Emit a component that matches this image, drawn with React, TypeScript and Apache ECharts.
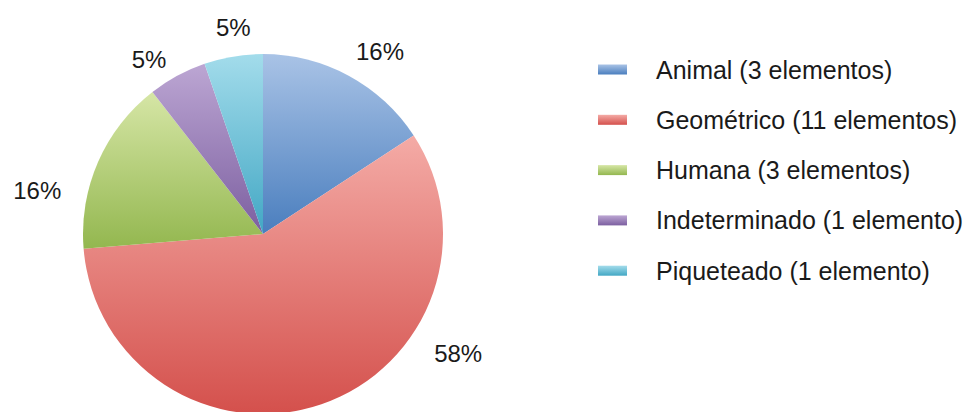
import React, { useEffect, useRef } from "react";
import * as echarts from "echarts";

const categories = ["Animal", "Geométrico", "Humana", "Indeterminado", "Piqueteado"];
const counts = [3, 11, 3, 1, 1];
const legendLabels = [
  "Animal (3 elementos)",
  "Geométrico (11 elementos)",
  "Humana (3 elementos)",
  "Indeterminado (1 elemento)",
  "Piqueteado (1 elemento)",
];
const topColors = ["#A9C3E6", "#F4ABA6", "#D6E6A6", "#BCA6D3", "#A3DCEB"];
const bottomColors = ["#4A7EBE", "#D4504C", "#93B74F", "#7C5FA0", "#42A7C4"];

// label placement (style): distance from centre and angular nudge from the slice's mid-angle
const labelDist = [217, 229, 230, 208, 209];
const labelNudge = [-4.2, 39.5, 12.7, 4.8, -1.3];

const CX = 263;
const CY = 234;

const grad = (i: number) =>
  new echarts.graphic.LinearGradient(0, 0, 0, 1, [
    { offset: 0, color: topColors[i] },
    { offset: 1, color: bottomColors[i] },
  ]);

export default function App() {
  const ref = useRef<HTMLDivElement>(null);
  useEffect(() => {
    document.body.style.margin = "0";
    const chart = echarts.init(ref.current!, null, { renderer: "svg" });
    const total = counts.reduce((a, b) => a + b, 0);
    const midAngles: number[] = [];
    let acc = 0;
    counts.forEach((v) => {
      const start = 90 - (acc / total) * 360;
      acc += v;
      const end = 90 - (acc / total) * 360;
      midAngles.push((start + end) / 2);
    });
    chart.setOption({
      animation: false,
      backgroundColor: "#ffffff",
      legend: {
        orient: "vertical",
        left: 598,
        top: 57,
        padding: 0,
        itemWidth: 29,
        itemHeight: 10,
        itemGap: 25.3,
        icon: "rect",
        data: legendLabels,
        textStyle: {
          fontFamily: "Liberation Sans, Arial, sans-serif",
          fontSize: 25,
          lineHeight: 25,
          color: "#1a1a1a",
          padding: [0, 0, 0, 24],
        },
      },
      series: [
        {
          type: "pie",
          center: [CX, CY],
          radius: 180,
          startAngle: 90,
          clockwise: true,
          silent: true,
          label: {
            show: true,
            position: "outside",
            overflow: "none",
            formatter: (p: any) => Math.round((p.value / total) * 100) + "%",
            fontFamily: "Liberation Sans, Arial, sans-serif",
            fontSize: 24,
            color: "#1a1a1a",
          },
          labelLine: { show: false },
          labelLayout: (params: any) => {
            const i = params.dataIndex;
            const a = ((midAngles[i] + labelNudge[i]) * Math.PI) / 180;
            return {
              x: CX + labelDist[i] * Math.cos(a),
              y: CY - labelDist[i] * Math.sin(a),
              align: "center",
              verticalAlign: "middle",
            };
          },
          itemStyle: { borderWidth: 0 },
          data: counts.map((v, i) => ({
            name: legendLabels[i],
            value: v,
            itemStyle: { color: grad(i) },
          })),
        },
      ],
    });
    return () => chart.dispose();
  }, []);
  return (
    <div
      ref={ref}
      style={{ position: "absolute", left: 0, top: 0, width: 970, height: 412 }}
    />
  );
}
